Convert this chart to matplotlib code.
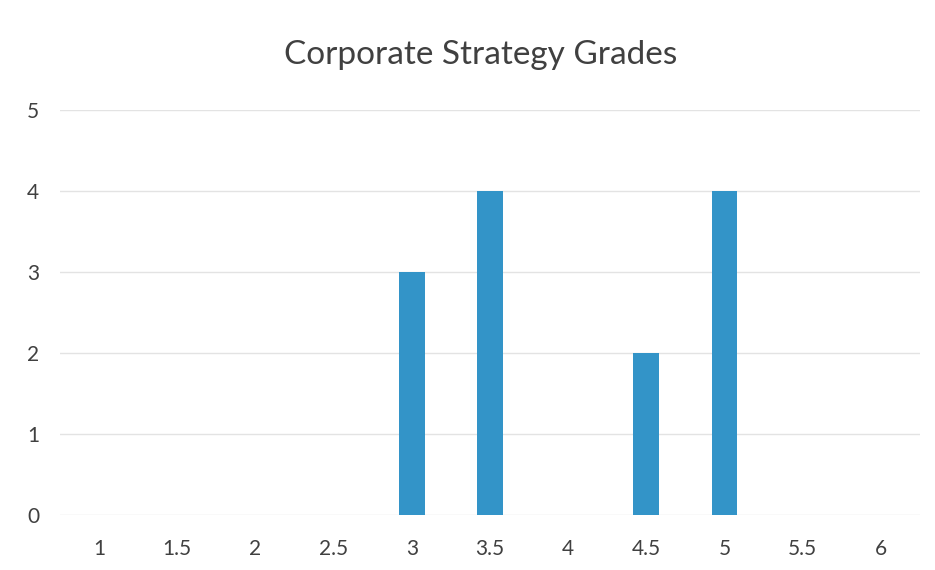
import matplotlib.pyplot as plt
import numpy as np

plt.rcParams['font.family'] = ['Lato', 'DejaVu Sans']

# category labels on the x axis and counts per grade
grades = ["1", "1.5", "2", "2.5", "3", "3.5", "4", "4.5", "5", "5.5", "6"]
counts = [0, 0, 0, 0, 3, 4, 0, 2, 4, 0, 0]
y_ticks = [0, 1, 2, 3, 4, 5]

fig = plt.figure(figsize=(9.35, 5.70), dpi=100)
ax = fig.add_axes([60 / 935, 55 / 570, 860 / 935, 405 / 570])

x = np.arange(len(grades))
ax.bar(x, counts, width=0.33, color='#3394c8', zorder=3)

ax.set_xlim(-0.5, len(grades) - 0.5)
ax.set_ylim(0, 5)
ax.set_xticks(x)
ax.set_xticklabels(grades)
ax.set_yticks(y_ticks)

ax.grid(axis='y', color='#e3e3e3', linewidth=1, zorder=0)
for s in ax.spines.values():
    s.set_visible(False)
ax.tick_params(axis='both', length=0, labelsize=15, colors='#404040')
ax.tick_params(axis='x', pad=17)
ax.tick_params(axis='y', pad=15)

fig.text(481 / 935, 1 - 55 / 570, "Corporate Strategy Grades", ha='center', va='center',
         fontsize=24, color='#404040')

fig.savefig('out.png', dpi=100)
